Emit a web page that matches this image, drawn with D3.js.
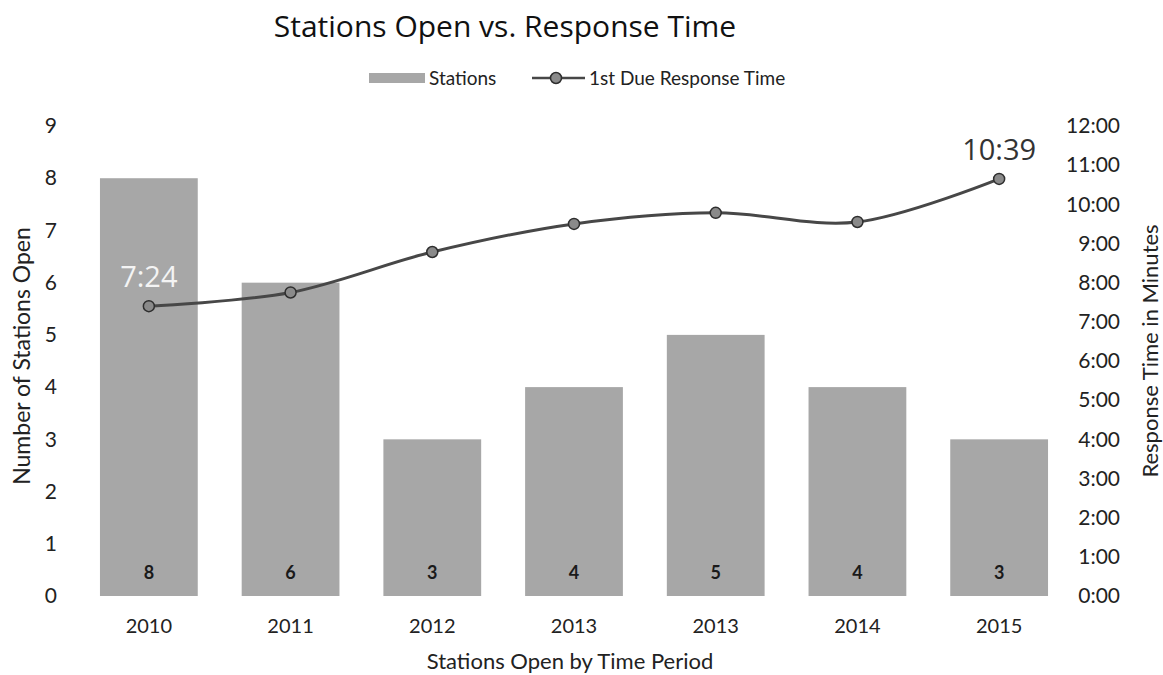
<!DOCTYPE html>
<html>
<head>
<meta charset="utf-8">
<script src="https://cdn.jsdelivr.net/npm/d3@7"></script>
<style>
  html, body { margin: 0; padding: 0; background: #fff; }
  svg { display: block; }
  text { fill: #222; }
</style>
</head>
<body>
<svg id="chart" width="1163" height="675"></svg>
<script>
// Period labels along the bottom (2013 appears twice in the source table)
const periods = ["2010", "2011", "2012", "2013", "2013", "2014", "2015"];
// Number of stations open in each period
const stationsOpen = [8, 6, 3, 4, 5, 4, 3];
// 1st due response time per period, in seconds
const responseSeconds = [444, 465, 527, 570, 587, 573, 639];
// Points that carry a data label
const labeledPoints = [0, 6];
// Axis tick values
const stationTicks = [0, 1, 2, 3, 4, 5, 6, 7, 8, 9];
const timeTicks = [0, 60, 120, 180, 240, 300, 360, 420, 480, 540, 600, 660, 720];

const svg = d3.select("#chart");
const plot = { left: 78, right: 1070, top: 126, bottom: 596 };

const barColor = "#a7a7a7";
const lineColor = "#474747";
const axisFont = "Lato, 'Open Sans', sans-serif";

const fmtTime = s => Math.floor(s / 60) + ":" + String(Math.round(s % 60)).padStart(2, "0");

const x = d3.scaleBand()
  .domain(d3.range(periods.length))
  .range([plot.left, plot.right])
  .paddingInner(0.31)
  .paddingOuter(0.155);

const yLeft = d3.scaleLinear().domain([0, 9]).range([plot.bottom, plot.top]);
const yRight = d3.scaleLinear().domain([0, 720]).range([plot.bottom, plot.top]);

// Title
svg.append("text")
  .attr("x", 505).attr("y", 37)
  .attr("text-anchor", "middle")
  .style("font-family", "'Open Sans', sans-serif")
  .style("font-size", "30px")
  .style("fill", "#111")
  .text("Stations Open vs. Response Time");

// Legend
const legend = svg.append("g").attr("class", "legend");
legend.append("rect")
  .attr("x", 369).attr("y", 73).attr("width", 56).attr("height", 10)
  .attr("fill", barColor);
legend.append("text")
  .attr("x", 429).attr("y", 85)
  .style("font-family", axisFont).style("font-size", "19px")
  .text("Stations");
legend.append("line")
  .attr("x1", 532).attr("x2", 585).attr("y1", 78).attr("y2", 78)
  .attr("stroke", lineColor).attr("stroke-width", 2.5);
legend.append("circle")
  .attr("cx", 556).attr("cy", 78).attr("r", 5.5)
  .attr("fill", "#8a8a8a").attr("stroke", "#2e2e2e").attr("stroke-width", 1.5);
legend.append("text")
  .attr("x", 589).attr("y", 85)
  .style("font-family", axisFont).style("font-size", "19px")
  .text("1st Due Response Time");

// Bars
svg.append("g").selectAll("rect")
  .data(stationsOpen)
  .join("rect")
  .attr("x", (d, i) => x(i))
  .attr("width", x.bandwidth())
  .attr("y", d => yLeft(d))
  .attr("height", d => yLeft(0) - yLeft(d))
  .attr("fill", barColor);

// Bar value labels near the base
svg.append("g").selectAll("text")
  .data(stationsOpen)
  .join("text")
  .attr("x", (d, i) => x(i) + x.bandwidth() / 2)
  .attr("y", yLeft(0) - 17)
  .attr("text-anchor", "middle")
  .style("font-family", axisFont)
  .style("font-size", "18px")
  .style("font-weight", "bold")
  .style("fill", "#1a1a1a")
  .text(d => d);

// Left axis
const leftAxis = d3.axisLeft(yLeft).tickValues(stationTicks).tickSize(0).tickPadding(0);
const gL = svg.append("g").attr("transform", "translate(57,0)").call(leftAxis);
gL.select(".domain").remove();
gL.selectAll("text")
  .style("font-family", axisFont).style("font-size", "21px").style("fill", "#222");

// Right axis
const rightAxis = d3.axisRight(yRight).tickValues(timeTicks).tickFormat(fmtTime).tickSize(0).tickPadding(0);
const gR = svg.append("g").attr("transform", "translate(1120,0)").call(rightAxis);
gR.select(".domain").remove();
gR.selectAll("text")
  .attr("text-anchor", "end")
  .style("font-family", axisFont).style("font-size", "21px").style("fill", "#222");

// Bottom axis labels
const bottomAxis = d3.axisBottom(x).tickFormat(i => periods[i]).tickSize(0).tickPadding(0);
const gB = svg.append("g").attr("transform", "translate(0,619)").call(bottomAxis);
gB.select(".domain").remove();
gB.selectAll("text")
  .style("font-family", axisFont).style("font-size", "20px").style("fill", "#222");

// Axis titles
svg.append("text")
  .attr("transform", `translate(30,${(plot.top + plot.bottom) / 2 - 5}) rotate(-90)`)
  .attr("text-anchor", "middle")
  .style("font-family", axisFont).style("font-size", "23px")
  .text("Number of Stations Open");

svg.append("text")
  .attr("transform", `translate(1158,${(plot.top + plot.bottom) / 2 - 10}) rotate(-90)`)
  .attr("text-anchor", "middle")
  .style("font-family", axisFont).style("font-size", "22px")
  .text("Response Time in Minutes");

svg.append("text")
  .attr("x", 570).attr("y", 669)
  .attr("text-anchor", "middle")
  .style("font-family", axisFont).style("font-size", "22px")
  .text("Stations Open by Time Period");

// Response time line
const cx = i => x(i) + x.bandwidth() / 2;
const line = d3.line()
  .x((d, i) => cx(i))
  .y(d => yRight(d))
  .curve(d3.curveCatmullRom.alpha(0.5));

svg.append("path")
  .datum(responseSeconds)
  .attr("d", line)
  .attr("fill", "none")
  .attr("stroke", lineColor)
  .attr("stroke-width", 3);

svg.append("g").selectAll("circle")
  .data(responseSeconds)
  .join("circle")
  .attr("cx", (d, i) => cx(i))
  .attr("cy", d => yRight(d))
  .attr("r", 5.5)
  .attr("fill", "#8a8a8a")
  .attr("stroke", "#2e2e2e")
  .attr("stroke-width", 1.5);

// Data labels on the first and last points
svg.append("g").selectAll("text")
  .data(labeledPoints)
  .join("text")
  .attr("x", i => cx(i))
  .attr("y", i => yRight(responseSeconds[i]) - 19)
  .attr("text-anchor", "middle")
  .style("font-family", "'Open Sans', sans-serif")
  .style("font-size", "29px")
  .style("fill", i => i === 0 ? "#f4f4f4" : "#333")
  .text(i => fmtTime(responseSeconds[i]));
</script>
</body>
</html>
